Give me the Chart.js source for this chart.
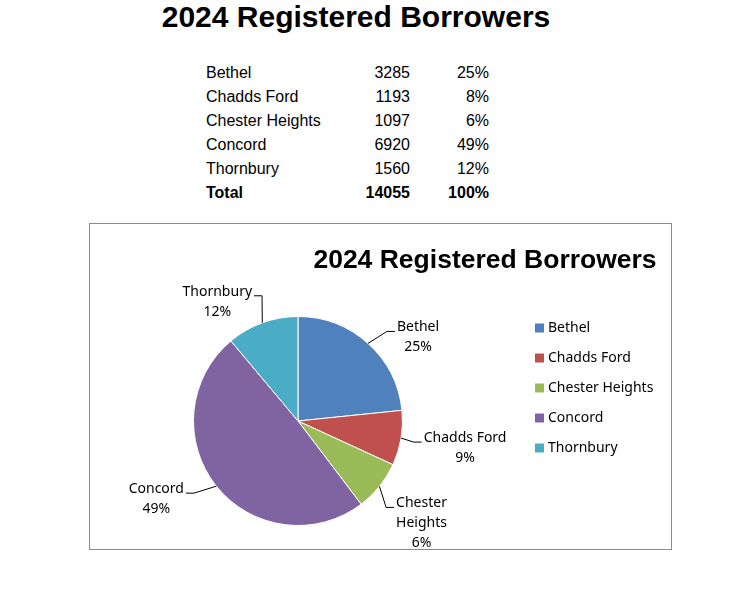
<!DOCTYPE html>
<html>
<head>
<meta charset="utf-8">
<script src="https://cdn.jsdelivr.net/npm/chart.js@4.4.1/dist/chart.umd.min.js"></script>
<style>
  body { margin: 0; background: #fff; font-family: "Liberation Sans", Arial, sans-serif; }
  #page-title {
    position: absolute; left: 0; top: 0px; width: 712px; margin: 0;
    text-align: center; font-size: 30px; font-weight: bold; color: #000;
  }
  #summary {
    position: absolute; left: 204px; top: 61px; border-collapse: collapse; font-size: 16px;
  }
  #summary td { height: 24px; padding: 0 2px; }
  #summary td.num { text-align: right; }
  #summary tr.total td { font-weight: bold; }
  #chart-box {
    position: absolute; left: 89px; top: 223px; width: 583px; height: 327px;
    box-sizing: border-box; border: 1px solid #8c8c8c; background: #fff;
  }
</style>
</head>
<body>
<h1 id="page-title">2024 Registered Borrowers</h1>
<table id="summary"><tbody></tbody></table>
<div id="chart-box"><canvas id="borrowers-chart" width="581" height="325"></canvas></div>

<script>
// Data
const towns = ["Bethel", "Chadds Ford", "Chester Heights", "Concord", "Thornbury"];
const borrowers = [3285, 1193, 1097, 6920, 1560];
const tablePercents = ["25%", "8%", "6%", "49%", "12%"];
const chartPercents = ["25%", "9%", "6%", "49%", "12%"];
const totalLabel = ["Total", "14055", "100%"];

const sliceColors = ["#4F81BD", "#C0504D", "#9BBB59", "#8064A2", "#4BACC6"];

// label text split into lines (Chester Heights wraps in the original)
const labelLines = [["Bethel"], ["Chadds Ford"], ["Chester", "Heights"], ["Concord"], ["Thornbury"]];
// where each label sits relative to its slice's edge point (dx, dy of the label block centre)
const labelOffsets = [[50, -6], [64, 10], [42, 37], [-60, 13], [-45, -21]];

// Fill the summary table
const tbody = document.querySelector("#summary tbody");
towns.forEach(function (town, i) {
  const tr = document.createElement("tr");
  tr.innerHTML = '<td style="width:146px">' + town + '</td>' +
    '<td class="num" style="width:54px">' + borrowers[i] + '</td>' +
    '<td class="num" style="width:75px">' + tablePercents[i] + '</td>';
  tbody.appendChild(tr);
});
const totalRow = document.createElement("tr");
totalRow.className = "total";
totalRow.innerHTML = '<td>' + totalLabel[0] + '</td><td class="num">' + totalLabel[1] +
  '</td><td class="num">' + totalLabel[2] + '</td>';
tbody.appendChild(totalRow);

const labelFont = '14px "Noto Sans", sans-serif';

// Title, legend and leader-line labels, drawn after the pie
const extras = {
  id: "extras",
  afterDraw: function (chart) {
    const c = chart.ctx;
    c.save();

    // chart title
    c.fillStyle = "#000";
    c.font = 'bold 26.5px "Liberation Sans", Arial, sans-serif';
    c.textAlign = "center";
    c.textBaseline = "middle";
    c.fillText("2024 Registered Borrowers", 395, 37);

    // legend
    c.font = labelFont;
    c.textAlign = "left";
    towns.forEach(function (town, i) {
      const y = 103 + i * 30;
      c.fillStyle = sliceColors[i];
      c.fillRect(445, y - 3.5, 9, 9);
      c.fillStyle = "#000";
      c.fillText(town, 458, y + 1);
    });

    // data labels with leader lines
    const meta = chart.getDatasetMeta(0);
    meta.data.forEach(function (arc, i) {
      const p = arc.getProps(["x", "y", "startAngle", "endAngle", "outerRadius"], true);
      const mid = (p.startAngle + p.endAngle) / 2;
      const ax = p.x + p.outerRadius * Math.cos(mid);
      const ay = p.y + p.outerRadius * Math.sin(mid);
      const lines = labelLines[i].concat([chartPercents[i]]);
      const lh = 20;
      const cx = ax + labelOffsets[i][0];
      const cy = ay + labelOffsets[i][1];
      const top = cy - (lines.length - 1) * lh / 2;

      c.fillStyle = "#000";
      c.textAlign = "center";
      c.textBaseline = "middle";
      lines.forEach(function (t, k) { c.fillText(t, cx, top + k * lh); });

      // leader line: slice edge -> elbow -> side of the first text line
      const side = cx > ax ? 1 : -1;
      const halfW = c.measureText(lines[0]).width / 2;
      const edgeX = cx - side * (halfW + 2);
      const lineY = top + 4;
      c.strokeStyle = "#000";
      c.lineWidth = 1;
      c.beginPath();
      c.moveTo(ax, ay);
      c.lineTo(edgeX - side * 8, lineY);
      c.lineTo(edgeX, lineY);
      c.stroke();
    });

    c.restore();
  }
};

const chart = new Chart(document.getElementById("borrowers-chart").getContext("2d"), {
  type: "pie",
  data: {
    labels: towns,
    datasets: [{
      data: borrowers,
      backgroundColor: sliceColors,
      borderColor: "#ffffff",
      borderWidth: 1
    }]
  },
  options: {
    responsive: false,
    animation: false,
    layout: { padding: { left: 103, right: 268, top: 92, bottom: 23 } },
    plugins: {
      legend: { display: false },
      title: { display: false },
      tooltip: { enabled: false }
    }
  },
  plugins: [extras]
});
</script>
</body>
</html>
